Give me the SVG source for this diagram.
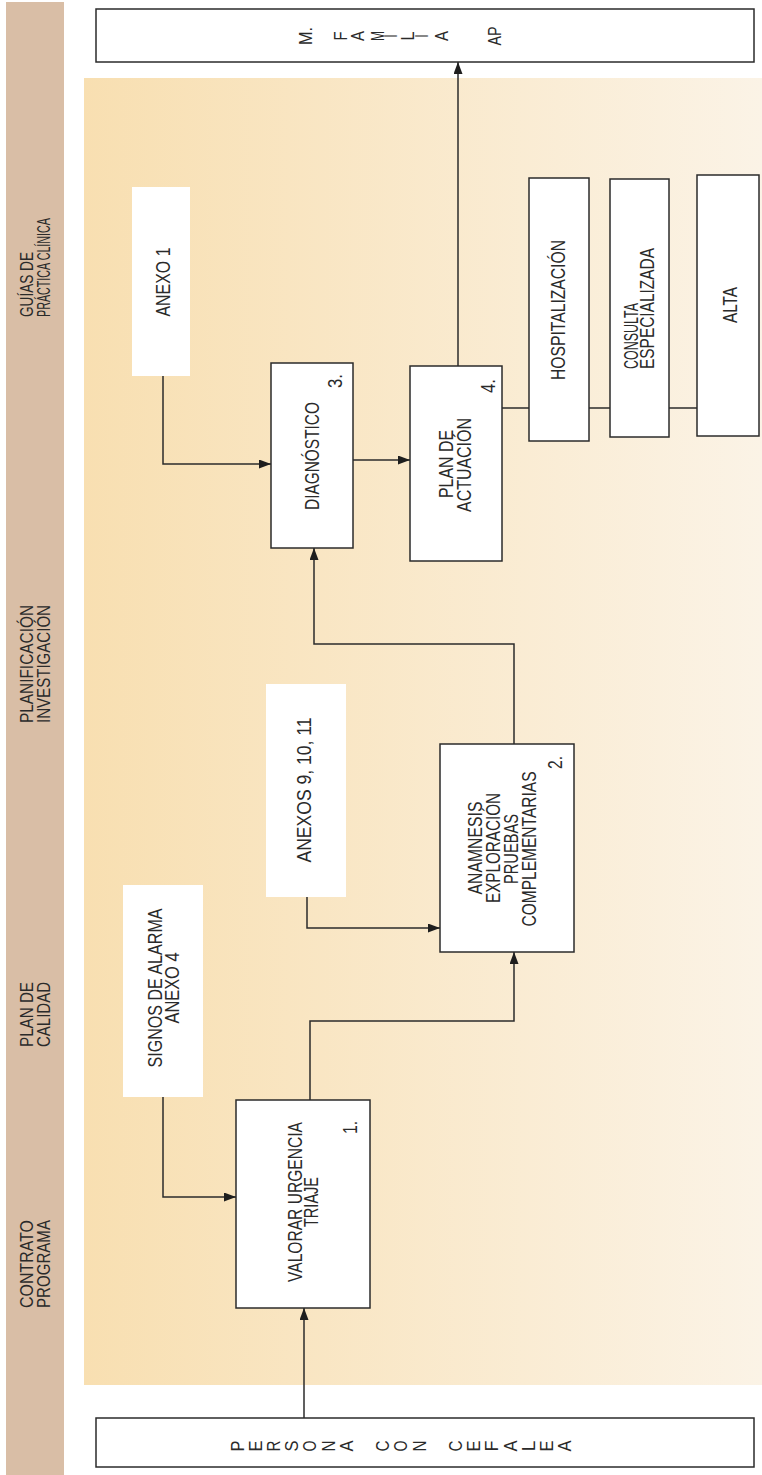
<svg xmlns="http://www.w3.org/2000/svg" width="762" height="1475" viewBox="0 0 762 1475">
<style>
.box{fill:#fff;stroke:#2b2b2b;stroke-width:1.5}
.note{fill:#fff;stroke:none}
.con{fill:none;stroke:#2b2b2b;stroke-width:1.5}
text{font-family:"Liberation Sans",Arial,sans-serif;fill:#2a2a2a}
.t{font-size:20px}
.s{font-size:18px}
.n{font-size:20px}
.l{font-size:19px;text-anchor:middle}
.m{text-anchor:middle}
</style>
<defs>
<linearGradient id="bg" x1="0" y1="0" x2="1" y2="0">
<stop offset="0" stop-color="#f8dfb1"/>
<stop offset="1" stop-color="#fbf3e6"/>
</linearGradient>
<marker id="arr" markerUnits="userSpaceOnUse" markerWidth="12" markerHeight="9" refX="12" refY="4.5" orient="auto">
<path d="M0,0 L12,4.5 L0,9 z" fill="#1e1e1e"/>
</marker>
</defs>
<rect x="6" y="2" width="58" height="1473" fill="#d9bea6"/>
<rect x="84" y="78" width="678" height="1307" fill="url(#bg)"/>
<g id="sidebar">
<text class="s" transform="translate(33,317) rotate(-90)" textLength="65" lengthAdjust="spacingAndGlyphs">GUÍAS DE</text>
<text class="s" transform="translate(50,317) rotate(-90)" textLength="99" lengthAdjust="spacingAndGlyphs">PRÁCTICA CLÍNICA</text>
<text class="s" transform="translate(33,723) rotate(-90)" textLength="118" lengthAdjust="spacingAndGlyphs">PLANIFICACIÓN</text>
<text class="s" transform="translate(50,723) rotate(-90)" textLength="118" lengthAdjust="spacingAndGlyphs">INVESTIGACIÓN</text>
<text class="s" transform="translate(33,1047) rotate(-90)" textLength="65" lengthAdjust="spacingAndGlyphs">PLAN DE</text>
<text class="s" transform="translate(50,1047) rotate(-90)" textLength="65" lengthAdjust="spacingAndGlyphs">CALIDAD</text>
<text class="s" transform="translate(33,1308) rotate(-90)" textLength="88" lengthAdjust="spacingAndGlyphs">CONTRATO</text>
<text class="s" transform="translate(50,1308) rotate(-90)" textLength="88" lengthAdjust="spacingAndGlyphs">PROGRAMA</text>
</g>
<g id="connectors">
<path class="con" d="M304,1418 V1308" marker-end="url(#arr)"/>
<path class="con" d="M163,1097 V1197 H236" marker-end="url(#arr)"/>
<path class="con" d="M310,1100 V1021 H514 V952" marker-end="url(#arr)"/>
<path class="con" d="M307,897 V928 H440" marker-end="url(#arr)"/>
<path class="con" d="M514,744 V644 H314 V548" marker-end="url(#arr)"/>
<path class="con" d="M163,376 V464 H271" marker-end="url(#arr)"/>
<path class="con" d="M353,460 H410" marker-end="url(#arr)"/>
<path class="con" d="M458,366 V62" marker-end="url(#arr)"/>
<path class="con" d="M502,408 H697"/>
</g>
<g id="familia">
<rect class="box" x="96" y="9" width="658" height="53"/>
<text class="l" transform="translate(312,36) rotate(-90)" textLength="18" lengthAdjust="spacingAndGlyphs">M.</text>
<text class="l" transform="translate(347,36) rotate(-90)" textLength="9" lengthAdjust="spacingAndGlyphs">F</text>
<text class="l" transform="translate(364,36) rotate(-90)" textLength="10" lengthAdjust="spacingAndGlyphs">A</text>
<text class="l" transform="translate(384,36) rotate(-90)" textLength="10" lengthAdjust="spacingAndGlyphs">M</text>
<text class="l" transform="translate(397,36) rotate(-90)" textLength="3" lengthAdjust="spacingAndGlyphs">I</text>
<text class="l" transform="translate(414,36) rotate(-90)" textLength="9" lengthAdjust="spacingAndGlyphs">L</text>
<text class="l" transform="translate(428,36) rotate(-90)" textLength="3" lengthAdjust="spacingAndGlyphs">I</text>
<text class="l" transform="translate(448,36) rotate(-90)" textLength="10" lengthAdjust="spacingAndGlyphs">A</text>
<text class="l" transform="translate(501,36) rotate(-90)" textLength="19" lengthAdjust="spacingAndGlyphs">AP</text>
</g>
<g id="persona">
<rect class="box" x="96" y="1418" width="658" height="49"/>
<text class="l" transform="translate(243.6,1446) rotate(-90)" textLength="11" lengthAdjust="spacingAndGlyphs">P</text>
<text class="l" transform="translate(261.8,1446) rotate(-90)" textLength="11" lengthAdjust="spacingAndGlyphs">E</text>
<text class="l" transform="translate(280,1446) rotate(-90)" textLength="11" lengthAdjust="spacingAndGlyphs">R</text>
<text class="l" transform="translate(298.2,1446) rotate(-90)" textLength="11" lengthAdjust="spacingAndGlyphs">S</text>
<text class="l" transform="translate(316.4,1446) rotate(-90)" textLength="11" lengthAdjust="spacingAndGlyphs">O</text>
<text class="l" transform="translate(334.6,1446) rotate(-90)" textLength="11" lengthAdjust="spacingAndGlyphs">N</text>
<text class="l" transform="translate(352.8,1446) rotate(-90)" textLength="11" lengthAdjust="spacingAndGlyphs">A</text>
<text class="l" transform="translate(389.2,1446) rotate(-90)" textLength="11" lengthAdjust="spacingAndGlyphs">C</text>
<text class="l" transform="translate(407.4,1446) rotate(-90)" textLength="11" lengthAdjust="spacingAndGlyphs">O</text>
<text class="l" transform="translate(425.6,1446) rotate(-90)" textLength="11" lengthAdjust="spacingAndGlyphs">N</text>
<text class="l" transform="translate(462,1446) rotate(-90)" textLength="11" lengthAdjust="spacingAndGlyphs">C</text>
<text class="l" transform="translate(480.2,1446) rotate(-90)" textLength="11" lengthAdjust="spacingAndGlyphs">E</text>
<text class="l" transform="translate(498.4,1446) rotate(-90)" textLength="11" lengthAdjust="spacingAndGlyphs">F</text>
<text class="l" transform="translate(516.6,1446) rotate(-90)" textLength="11" lengthAdjust="spacingAndGlyphs">A</text>
<text class="l" transform="translate(534.8,1446) rotate(-90)" textLength="11" lengthAdjust="spacingAndGlyphs">L</text>
<text class="l" transform="translate(553,1446) rotate(-90)" textLength="11" lengthAdjust="spacingAndGlyphs">E</text>
<text class="l" transform="translate(571.2,1446) rotate(-90)" textLength="11" lengthAdjust="spacingAndGlyphs">A</text>
</g>
<g id="valorar">
<rect class="box" x="236" y="1100" width="134" height="208"/>
<text class="t m" transform="translate(302,1202) rotate(-90)" textLength="160" lengthAdjust="spacingAndGlyphs">VALORAR URGENCIA</text>
<text class="t m" transform="translate(318,1202) rotate(-90)" textLength="50" lengthAdjust="spacingAndGlyphs">TRIAJE</text>
<text class="n" transform="translate(357,1134) rotate(-90)" textLength="13" lengthAdjust="spacingAndGlyphs">1.</text>
</g>
<g id="signos">
<rect class="note" x="123" y="885" width="80" height="212"/>
<text class="t m" transform="translate(162,988) rotate(-90)" textLength="159" lengthAdjust="spacingAndGlyphs">SIGNOS DE ALARMA</text>
<text class="t m" transform="translate(179,988) rotate(-90)" textLength="71" lengthAdjust="spacingAndGlyphs">ANEXO 4</text>
</g>
<g id="anexos">
<rect class="note" x="266" y="684" width="80" height="213"/>
<text class="t m" transform="translate(311,790) rotate(-90)" textLength="145" lengthAdjust="spacingAndGlyphs">ANEXOS 9, 10, 11</text>
</g>
<g id="anamnesis">
<rect class="box" x="440" y="744" width="134" height="208"/>
<text class="t m" transform="translate(482,848) rotate(-90)" textLength="93" lengthAdjust="spacingAndGlyphs">ANAMNESIS</text>
<text class="t m" transform="translate(500,848) rotate(-90)" textLength="110" lengthAdjust="spacingAndGlyphs">EXPLORACIÓN</text>
<text class="t m" transform="translate(518,849) rotate(-90)" textLength="70" lengthAdjust="spacingAndGlyphs">PRUEBAS</text>
<text class="t m" transform="translate(536,849) rotate(-90)" textLength="155" lengthAdjust="spacingAndGlyphs">COMPLEMENTARIAS</text>
<text class="n" transform="translate(562,769) rotate(-90)" textLength="13" lengthAdjust="spacingAndGlyphs">2.</text>
</g>
<g id="anexo1">
<rect class="note" x="132" y="187" width="58" height="189"/>
<text class="t m" transform="translate(170,282) rotate(-90)" textLength="69" lengthAdjust="spacingAndGlyphs">ANEXO 1</text>
</g>
<g id="diagnostico">
<rect class="box" x="271" y="363" width="82" height="185"/>
<text class="t m" transform="translate(319,456) rotate(-90)" textLength="108" lengthAdjust="spacingAndGlyphs">DIAGNÓSTICO</text>
<text class="n" transform="translate(342,388) rotate(-90)" textLength="14" lengthAdjust="spacingAndGlyphs">3.</text>
</g>
<g id="plan">
<rect class="box" x="410" y="366" width="92" height="195"/>
<text class="t m" transform="translate(453,464) rotate(-90)" textLength="68" lengthAdjust="spacingAndGlyphs">PLAN DE</text>
<text class="t m" transform="translate(471,465) rotate(-90)" textLength="94" lengthAdjust="spacingAndGlyphs">ACTUACIÓN</text>
<text class="n" transform="translate(495,393) rotate(-90)" textLength="14" lengthAdjust="spacingAndGlyphs">4.</text>
</g>
<g id="hospitalizacion">
<rect class="box" x="529" y="178" width="60" height="263"/>
<text class="t m" transform="translate(565,310) rotate(-90)" textLength="140" lengthAdjust="spacingAndGlyphs">HOSPITALIZACIÓN</text>
</g>
<g id="consulta">
<rect class="box" x="610" y="179" width="59" height="258"/>
<text class="t" transform="translate(638,369) rotate(-90)" textLength="66" lengthAdjust="spacingAndGlyphs">CONSULTA</text>
<text class="t" transform="translate(654,369) rotate(-90)" textLength="121" lengthAdjust="spacingAndGlyphs">ESPECIALIZADA</text>
</g>
<g id="alta">
<rect class="box" x="697" y="175" width="62" height="261"/>
<text class="t m" transform="translate(737,305) rotate(-90)" textLength="36" lengthAdjust="spacingAndGlyphs">ALTA</text>
</g>
</svg>
